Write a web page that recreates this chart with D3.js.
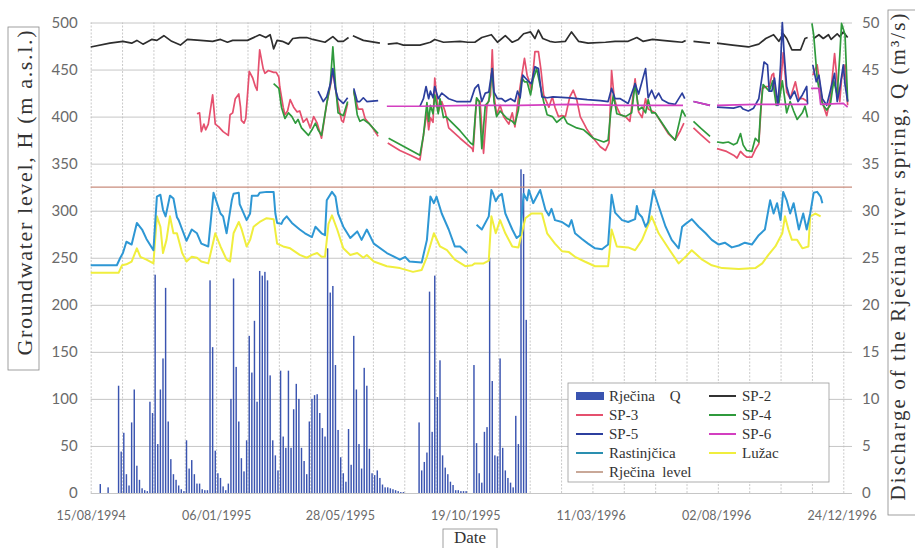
<!DOCTYPE html>
<html>
<head>
<meta charset="utf-8">
<script src="https://cdn.jsdelivr.net/npm/d3@7"></script>
<style>
  body { margin: 0; background: #fff; }
  svg { display: block; }
  .tick text { font-family: Lato, "Noto Sans", sans-serif; fill: #6a6a6a; }
  .serif { font-family: "Liberation Serif", "DejaVu Serif", serif; fill: #333; }
</style>
</head>
<body>
<script>
// data: [days since 15/08/1994, value], null value = gap in the record
var startDate = "15/08/1994";
var xTickLabels = ["15/08/1994", "06/01/1995", "28/05/1995", "19/10/1995", "11/03/1996", "02/08/1996", "24/12/1996"];
var yLeftTicks = [0, 50, 100, 150, 200, 250, 300, 350, 400, 450, 500];
var yRightTicks = [0, 5, 10, 15, 20, 25, 30, 35, 40, 45, 50];

var rjecinaLevel = 325;

var sp2 = [[0,474],[22,478],[37,480],[47,478],[53,481],[60,477],[70,482],[76,481],[84,486],[93,480],[103,476],[111,482],[126,481],[140,480],[149,482],[157,479],[163,481],[180,481],[194,487],[201,484],[206,487],[208,480],[210,472],[214,481],[220,480],[227,477],[232,483],[240,484],[248,484],[255,482],[269,479],[278,485],[284,480],[290,480],[296,484],[298,null],[301,486],[313,481],[332,478],[334,null],[341,477],[352,478],[359,476],[378,476],[390,479],[395,482],[405,479],[424,480],[433,479],[441,479],[449,484],[460,487],[467,479],[476,486],[484,479],[491,482],[497,488],[505,490],[510,483],[514,492],[519,483],[527,480],[533,479],[545,480],[552,490],[560,480],[571,478],[591,479],[602,480],[617,480],[627,484],[634,480],[645,482],[656,481],[668,480],[679,479],[683,481],[687,null],[692,480],[711,478],[714,null],[719,478],[737,476],[755,474],[767,477],[775,483],[784,487],[790,480],[795,488],[799,483],[805,471],[815,471],[820,483],[823,484],[825,null],[830,483],[836,487],[841,483],[847,487],[850,482],[857,488],[860,485],[864,490],[869,484]];

var sp3 = [[122,403],[125,404],[127,384],[130,392],[132,386],[135,392],[140,423],[143,392],[147,389],[152,384],[158,380],[160,402],[163,404],[166,419],[170,424],[172,410],[173,396],[176,393],[178,398],[182,448],[186,441],[189,432],[191,428],[194,471],[198,451],[200,446],[204,449],[210,447],[213,447],[216,442],[217,432],[221,410],[223,402],[226,406],[229,418],[233,410],[237,405],[240,406],[244,394],[248,398],[252,388],[256,400],[260,393],[265,377],[271,414],[275,432],[278,448],[283,418],[288,396],[290,394],[295,414],[298,null],[302,426],[307,408],[312,408],[315,398],[323,389],[330,379],[334,null],[341,372],[355,364],[367,359],[378,354],[382,380],[386,405],[388,386],[390,399],[393,394],[395,441],[399,405],[403,416],[407,405],[411,388],[424,377],[438,366],[439,363],[443,418],[447,416],[451,361],[455,412],[459,423],[461,471],[463,423],[466,402],[470,412],[474,400],[480,392],[484,404],[487,389],[491,420],[495,444],[498,462],[501,444],[504,436],[506,428],[510,469],[514,469],[517,449],[520,423],[526,410],[530,421],[533,410],[537,400],[541,401],[545,400],[550,421],[554,428],[558,418],[562,400],[566,393],[570,386],[577,377],[585,368],[591,364],[595,372],[598,449],[601,420],[604,410],[608,402],[614,400],[619,395],[625,440],[629,405],[633,399],[637,419],[640,408],[648,404],[663,382],[671,375],[677,385],[681,393],[687,null],[692,388],[700,381],[711,372],[714,null],[719,366],[730,363],[738,359],[742,356],[746,363],[750,359],[753,357],[759,357],[763,365],[767,371],[769,400],[771,430],[776,432],[779,432],[782,444],[784,446],[787,416],[791,423],[795,468],[799,426],[803,419],[809,437],[813,419],[818,419],[823,416],[825,null],[829,444],[834,455],[836,442],[840,415],[845,401],[849,419],[854,467],[857,437],[860,416],[862,440],[866,455],[869,412]];

var sp4 = [[210,435],[216,430],[219,410],[223,398],[227,404],[231,400],[235,393],[238,397],[242,388],[246,384],[250,380],[254,386],[258,393],[261,386],[265,380],[271,414],[275,434],[278,474],[281,434],[284,404],[290,401],[295,416],[298,null],[302,428],[306,402],[309,395],[313,397],[319,393],[330,382],[334,null],[342,377],[378,359],[382,380],[386,415],[388,395],[390,412],[393,403],[395,423],[399,403],[401,419],[405,399],[408,400],[411,397],[424,385],[436,372],[439,370],[443,420],[446,416],[449,366],[453,412],[457,416],[461,451],[463,416],[466,400],[470,406],[478,398],[484,395],[487,392],[491,407],[495,441],[498,437],[501,437],[505,423],[508,440],[512,451],[516,433],[520,416],[524,402],[530,400],[535,394],[543,400],[547,393],[558,388],[566,386],[577,377],[589,373],[594,375],[597,404],[600,423],[604,403],[608,402],[614,400],[621,404],[625,435],[629,407],[633,410],[637,404],[640,418],[644,404],[648,404],[664,382],[671,375],[679,407],[683,400],[687,null],[692,395],[700,388],[711,379],[714,null],[719,373],[726,372],[732,373],[738,370],[742,372],[746,382],[749,370],[753,364],[759,363],[763,377],[767,373],[769,405],[772,434],[776,430],[779,427],[783,438],[787,412],[790,414],[794,438],[799,404],[803,416],[807,406],[811,397],[817,404],[820,411],[823,399],[825,null],[828,499],[830,487],[834,441],[838,419],[841,412],[845,407],[849,412],[853,438],[857,423],[860,465],[862,499],[866,487],[869,416]];

var sp5 = [[261,427],[267,416],[271,421],[275,434],[278,451],[281,429],[284,419],[290,414],[295,420],[298,null],[302,430],[306,416],[309,416],[313,420],[317,416],[330,417],[334,null],[378,411],[382,419],[385,432],[388,419],[390,427],[393,420],[395,432],[399,419],[403,425],[407,422],[411,419],[420,416],[436,416],[441,430],[445,434],[449,416],[453,425],[457,426],[461,451],[463,426],[467,419],[472,419],[476,416],[482,419],[487,416],[490,427],[493,420],[496,444],[499,441],[503,437],[506,435],[510,453],[514,451],[518,421],[524,420],[531,421],[550,420],[570,418],[585,417],[594,416],[598,430],[602,419],[608,419],[617,414],[625,435],[629,424],[637,451],[640,420],[644,428],[648,419],[652,425],[656,418],[664,414],[671,413],[679,425],[682,419],[687,null],[692,416],[711,412],[714,null],[719,410],[738,409],[746,411],[749,408],[755,406],[761,409],[767,419],[771,444],[773,458],[777,455],[779,427],[782,427],[785,441],[789,412],[792,455],[794,500],[796,468],[799,432],[803,419],[808,427],[812,416],[817,423],[822,432],[823,413],[825,null],[829,455],[833,437],[836,444],[840,419],[845,412],[849,427],[854,446],[857,416],[860,430],[864,455],[866,434],[869,416]];

var sp6 = [[340,411],[378,411],[436,412],[493,412],[550,413],[608,412],[680,412],[687,null],[692,416],[711,412],[714,null],[719,412],[764,413],[823,413],[825,null],[827,430],[836,430],[838,413],[864,414],[869,410]];

var rastinjcica = [[0,242],[16,242],[30,242],[34,250],[37,255],[41,267],[47,264],[53,287],[59,280],[64,270],[72,258],[76,315],[80,317],[83,301],[86,294],[91,316],[95,313],[99,293],[101,290],[105,280],[110,268],[116,280],[122,276],[127,265],[135,262],[141,319],[149,297],[152,294],[156,276],[162,311],[164,318],[170,319],[171,307],[179,290],[183,297],[185,316],[192,316],[194,319],[202,320],[210,320],[212,297],[214,287],[219,286],[221,290],[225,294],[231,287],[240,280],[246,276],[254,272],[258,283],[265,276],[269,274],[271,311],[277,320],[281,315],[284,297],[290,283],[298,271],[306,278],[311,269],[317,280],[325,265],[340,255],[355,248],[361,251],[366,246],[380,245],[386,269],[390,315],[394,308],[397,315],[403,297],[411,280],[418,262],[424,262],[432,255],[436,null],[443,285],[449,280],[457,294],[460,322],[462,318],[465,310],[468,315],[472,318],[476,297],[484,280],[489,271],[493,274],[497,318],[501,311],[503,322],[508,308],[512,315],[516,322],[522,301],[526,295],[529,302],[533,290],[541,288],[549,283],[552,290],[556,276],[564,270],[571,265],[579,260],[587,259],[594,264],[598,317],[602,298],[610,290],[617,288],[625,291],[627,305],[629,297],[633,293],[637,283],[640,288],[646,322],[652,305],[660,283],[667,269],[675,260],[679,283],[683,286],[690,291],[698,283],[706,276],[713,269],[721,264],[728,266],[736,261],[744,263],[751,266],[759,264],[767,274],[774,280],[780,311],[784,297],[788,308],[792,290],[795,320],[799,311],[803,297],[807,308],[813,280],[818,297],[822,280],[826,297],[830,319],[834,320],[838,315],[840,308]];

var luzac = [[0,234],[32,234],[36,242],[41,243],[47,246],[53,260],[57,251],[64,248],[72,244],[76,294],[80,283],[83,255],[87,269],[91,294],[95,276],[99,276],[105,255],[110,246],[116,251],[122,250],[127,246],[135,244],[143,276],[149,262],[156,248],[160,246],[164,276],[170,288],[173,281],[179,262],[183,269],[187,283],[194,288],[202,292],[210,291],[214,265],[221,262],[229,260],[240,253],[248,250],[254,253],[260,255],[265,251],[269,251],[273,286],[277,295],[283,280],[290,260],[298,253],[306,255],[313,250],[317,253],[325,246],[340,241],[355,239],[370,235],[380,237],[386,251],[394,276],[401,262],[409,258],[418,248],[430,241],[438,242],[441,244],[451,244],[457,247],[460,294],[465,276],[470,290],[476,276],[484,262],[491,261],[495,276],[499,292],[506,297],[518,297],[524,276],[533,265],[541,257],[549,256],[556,251],[567,246],[579,241],[594,241],[598,280],[604,262],[617,261],[625,258],[633,269],[644,294],[652,276],[664,259],[675,244],[683,251],[690,258],[702,248],[713,242],[725,239],[744,238],[763,239],[771,244],[778,253],[786,262],[794,276],[797,294],[801,280],[805,269],[811,269],[817,260],[824,262],[826,294],[832,297],[838,294]];

// Rječina discharge Q (m3/s), one value every 3 days starting on day 2
var qStartDay = 2;
var qStepDays = 3;
var qRjecina = [null,null,null,0.95,null,null,0.6,null,null,null,
  11.4,4.4,6.4,2.0,0.8,7.5,11.0,2.9,1.4,0.5,
  0.3,0.2,9.7,8.5,23.2,5.2,11.0,14.3,21.8,7.6,
  3.6,2.0,1.4,0.8,0.4,0.2,5.6,2.6,3.5,2.0,
  1.0,1.0,0.4,0.3,0.3,22.6,15.5,4.5,2.1,1.6,
  0.7,0.3,1.0,10.0,22.8,13.4,7.6,3.7,2.3,5.6,
  16.7,12.8,18.3,9.7,23.6,23.1,23.5,22.6,12.5,5.6,
  4.0,2.4,13.0,6.0,4.8,13.0,4.8,8.9,11.6,10.0,
  4.8,3.4,2.0,7.6,10.0,10.4,10.5,8.5,6.9,6.0,
  26.0,21.3,22.0,13.6,6.7,3.8,2.1,1.2,6.8,3.0,
  16.7,11.0,5.2,2.6,13.3,11.4,4.7,2.1,1.9,2.4,
  1.6,0.9,0.6,0.6,0.5,0.4,0.3,0.2,0.1,0.1,
  null,null,null,null,null,7.5,2.4,3.3,4.3,21.4,
  6.5,23.1,10.2,14.1,4.0,2.7,2.0,1.2,0.85,0.3,
  0.3,0.2,0.2,0.2,null,null,13.6,5.3,2.1,1.1,
  6.5,7.0,25.0,11.9,4.0,3.9,14.3,4.8,2.4,1.6,
  1.1,0.6,8.2,5.2,34.4,33.9,18.4];

var W = 915, H = 548;
var plotL = 90.7, plotR = 852, plotT = 22.5, plotB = 493;

var parseDate = d3.utcParse("%d/%m/%Y");
var start = parseDate(startDate);
function day(d) { return d3.utcDay.offset(start, d); }

var x = d3.scaleUtc().domain([day(0), day(874)]).range([plotL, plotR]);
var yL = d3.scaleLinear().domain([0, 500]).range([plotB, plotT]);
var yR = d3.scaleLinear().domain([0, 50]).range([plotB, plotT]);

var svg = d3.select("body").append("svg").attr("width", W).attr("height", H);

// grid
var gridH = svg.append("g").attr("transform", "translate(" + plotL + ",0)")
    .call(d3.axisLeft(yL).tickValues(yLeftTicks).tickSize(-(plotR - plotL)).tickFormat(""));
gridH.select(".domain").remove();
gridH.selectAll("line").attr("stroke", "#b8b8b8").attr("stroke-width", 0.8);

var gridV = svg.append("g").attr("transform", "translate(0," + plotB + ")")
    .call(d3.axisBottom(x).tickValues(d3.range(0, 865, 36).map(day)).tickSize(-(plotB - plotT)).tickFormat(""));
gridV.select(".domain").remove();
gridV.selectAll("line").attr("stroke", "#bdbdbd").attr("stroke-width", 0.8).attr("stroke-dasharray", "2,1.5");

// axes labels
var axL = svg.append("g").attr("transform", "translate(" + plotL + ",0)")
    .call(d3.axisLeft(yL).tickValues(yLeftTicks).tickSize(0).tickPadding(13));
axL.select(".domain").remove();
axL.selectAll("text").style("font-size", "15px");

var axR = svg.append("g").attr("transform", "translate(" + plotR + ",0)")
    .call(d3.axisRight(yR).tickValues(yRightTicks).tickSize(0).tickPadding(10));
axR.select(".domain").remove();
axR.selectAll("text").style("font-size", "15px");

var axB = svg.append("g").attr("transform", "translate(0," + plotB + ")")
    .call(d3.axisBottom(x).tickValues(xTickLabels.map(parseDate))
      .tickFormat(d3.utcFormat("%d/%m/%Y")).tickSize(0).tickPadding(18));
axB.select(".domain").remove();
axB.selectAll("text").style("font-size", "12.5px");

// discharge bars (right axis)
var qData = qRjecina.map(function (v, i) { return { day: qStartDay + i * qStepDays, q: v }; })
    .filter(function (d) { return d.q != null; });
var barW = (x(day(qStepDays)) - x(day(0))) * 0.55;
svg.append("g").selectAll("rect").data(qData).enter().append("rect")
    .attr("x", function (d) { return x(day(d.day)) - barW / 2; })
    .attr("y", function (d) { return yR(d.q); })
    .attr("width", barW)
    .attr("height", function (d) { return plotB - yR(d.q); })
    .attr("fill", "#3a54b0");

// lines (left axis)
var line = d3.line()
    .defined(function (d) { return d[1] != null; })
    .x(function (d) { return x(day(d[0])); })
    .y(function (d) { return yL(d[1]); });

svg.append("line")
    .attr("x1", plotL).attr("x2", plotR)
    .attr("y1", yL(rjecinaLevel)).attr("y2", yL(rjecinaLevel))
    .attr("stroke", "#c98c7c").attr("stroke-width", 1.2);

var series = [
  { data: luzac, color: "#f0ee3e", w: 2 },
  { data: rastinjcica, color: "#2e97d4", w: 2 },
  { data: sp2, color: "#2e2e2e", w: 1.7 },
  { data: sp3, color: "#e5506e", w: 1.7 },
  { data: sp4, color: "#2f9a3c", w: 1.7 },
  { data: sp5, color: "#2c3f9e", w: 1.7 },
  { data: sp6, color: "#d33fc0", w: 1.7 }
];
series.forEach(function (s) {
  svg.append("path").datum(s.data)
    .attr("d", line)
    .attr("fill", "none")
    .attr("stroke", s.color)
    .attr("stroke-width", s.w)
    .attr("stroke-linejoin", "round");
});

// axis titles
svg.append("rect").attr("x", 8).attr("y", 27).attr("width", 31).attr("height", 343)
    .attr("fill", "none").attr("stroke", "#888").attr("stroke-width", 0.8);
svg.append("text").attr("class", "serif")
    .attr("transform", "translate(32,193) rotate(-90)")
    .attr("text-anchor", "middle")
    .attr("textLength", 325).attr("lengthAdjust", "spacing")
    .style("font-size", "22px")
    .text("Groundwater level, H (m a.s.l.)");

svg.append("rect").attr("x", 888).attr("y", 10).attr("width", 40).attr("height", 505)
    .attr("fill", "none").attr("stroke", "#888").attr("stroke-width", 0.8);
svg.append("text").attr("class", "serif")
    .attr("transform", "translate(905,257) rotate(-90)")
    .attr("text-anchor", "middle")
    .attr("textLength", 487).attr("lengthAdjust", "spacing")
    .style("font-size", "21px")
    .text("Discharge of the Rječina river spring, Q (m³/s)");

svg.append("rect").attr("x", 443).attr("y", 529).attr("width", 54).attr("height", 30)
    .attr("fill", "none").attr("stroke", "#888").attr("stroke-width", 0.8);
svg.append("text").attr("class", "serif")
    .attr("x", 470).attr("y", 543).attr("text-anchor", "middle")
    .style("font-size", "17px")
    .text("Date");

// legend
var lg = svg.append("g");
lg.append("rect").attr("x", 568).attr("y", 383).attr("width", 261).attr("height", 99)
    .attr("fill", "#fff").attr("stroke", "#999").attr("stroke-width", 0.8);
var legendItems = [
  { label: "Rječina    Q", color: "#3a54b0", bar: true, col: 0, row: 0 },
  { label: "SP-2", color: "#333333", col: 1, row: 0 },
  { label: "SP-3", color: "#e5506e", col: 0, row: 1 },
  { label: "SP-4", color: "#2f9a3c", col: 1, row: 1 },
  { label: "SP-5", color: "#2c3f9e", col: 0, row: 2 },
  { label: "SP-6", color: "#d33fc0", col: 1, row: 2 },
  { label: "Rastinjčica", color: "#2a8fb0", col: 0, row: 3 },
  { label: "Lužac", color: "#f0ee3e", col: 1, row: 3 },
  { label: "Rječina  level", color: "#c9a898", col: 0, row: 4 }
];
legendItems.forEach(function (it) {
  var x0 = it.col === 0 ? 576 : 709;
  var yc = 396 + it.row * 19;
  if (it.bar) {
    lg.append("rect").attr("x", x0).attr("y", yc - 4).attr("width", 28).attr("height", 8).attr("fill", it.color);
  } else {
    lg.append("line").attr("x1", x0).attr("x2", x0 + 27).attr("y1", yc).attr("y2", yc)
      .attr("stroke", it.color).attr("stroke-width", 2);
  }
  lg.append("text").attr("class", "serif")
    .attr("x", x0 + 33).attr("y", yc + 5)
    .style("font-size", "15px").style("white-space", "pre")
    .text(it.label);
});
</script>
</body>
</html>
